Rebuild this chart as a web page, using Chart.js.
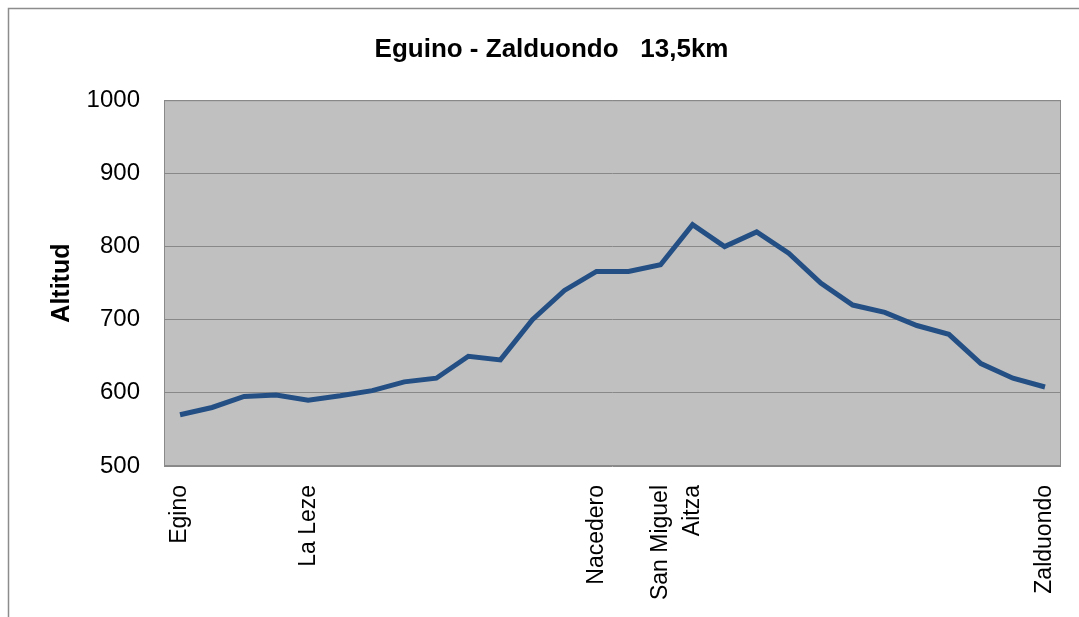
<!DOCTYPE html>
<html>
<head>
<meta charset="utf-8">
<title>Eguino - Zalduondo</title>
<script src="https://cdn.jsdelivr.net/npm/chart.js@4.4.1/dist/chart.umd.min.js"></script>
<style>
  html, body { margin: 0; padding: 0; background: #fff; overflow: hidden; }
  #wrap { width: 1079px; height: 617px; }
</style>
</head>
<body>
<div id="wrap"><canvas id="profile" width="1079" height="617"></canvas></div>
<script>
// route points, most of them unnamed
const places = [
  'Egino', '', '', '', 'La Leze', '', '', '', '', '', '', '', '', 'Nacedero',
  '', 'San Miguel', 'Aitza', '', '', '', '', '', '', '', '', '', '', 'Zalduondo'
];
const altitudes = [
  570, 580, 595, 597, 590, 596, 603, 615, 620, 650, 645, 700, 740, 766,
  766, 775, 830, 800, 820, 791, 750, 720, 710, 692, 680, 640, 620, 608
];
const altitudeTicks = [500, 600, 700, 800, 900, 1000];

const FONT = '"Liberation Sans", Arial, sans-serif';
const LINE_BLUE = '#234F84';
const GRID_GREY = '#888888';

// grey plot background + outer frame (Excel look)
const excelFrame = {
  id: 'excelFrame',
  beforeDraw(chart) {
    const { ctx, chartArea: a } = chart;
    ctx.save();
    ctx.strokeStyle = '#8c8c8c';
    ctx.lineWidth = 1.5;
    ctx.strokeRect(8.5, 8.5, 2000, 2000);
    ctx.fillStyle = '#C0C0C0';
    ctx.fillRect(a.left, a.top, a.right - a.left, a.bottom - a.top);
    ctx.strokeStyle = '#8a8a8a';
    ctx.lineWidth = 1;
    ctx.strokeRect(a.left + 0.5, a.top + 0.5, a.right - a.left - 1, a.bottom - a.top - 1);
    ctx.restore();
  }
};

new Chart(document.getElementById('profile'), {
  type: 'line',
  data: {
    labels: places,
    datasets: [{
      data: altitudes,
      borderColor: LINE_BLUE,
      borderWidth: 5,
      pointRadius: 0,
      tension: 0,
      fill: false,
    }],
  },
  options: {
    responsive: false,
    animation: false,
    layout: { padding: { left: 42, right: 18, top: 0, bottom: 0 } },
    plugins: {
      legend: { display: false },
      tooltip: { enabled: false },
      title: {
        display: true,
        text: 'Eguino - Zalduondo   13,5km',
        color: '#000',
        font: { family: FONT, size: 26, weight: 'bold' },
        padding: { top: 34, bottom: 35 },
      },
    },
    scales: {
      x: {
        offset: true,
        grid: { display: false },
        border: { display: false },
        ticks: {
          autoSkip: false,
          maxRotation: 90,
          minRotation: 90,
          padding: 11,
          color: '#000',
          font: { family: FONT, size: 23 },
        },
        afterFit: (s) => {
          s.height = 151;
          s.paddingLeft = 0;
          s.paddingRight = 0;
        },
      },
      y: {
        min: altitudeTicks[0],
        max: altitudeTicks[altitudeTicks.length - 1],
        grid: { color: GRID_GREY, drawTicks: false },
        border: { display: false },
        ticks: {
          stepSize: altitudeTicks[1] - altitudeTicks[0],
          padding: 24,
          color: '#000',
          font: { family: FONT, size: 24 },
          callback: (v) => String(v),
        },
        title: {
          display: true,
          text: 'Altitud',
          color: '#000',
          font: { family: FONT, size: 25, weight: 'bold' },
          padding: { top: 5, bottom: 0 },
        },
        afterFit: (s) => { s.width = 122; },
      },
    },
  },
  plugins: [excelFrame],
});
</script>
</body>
</html>
